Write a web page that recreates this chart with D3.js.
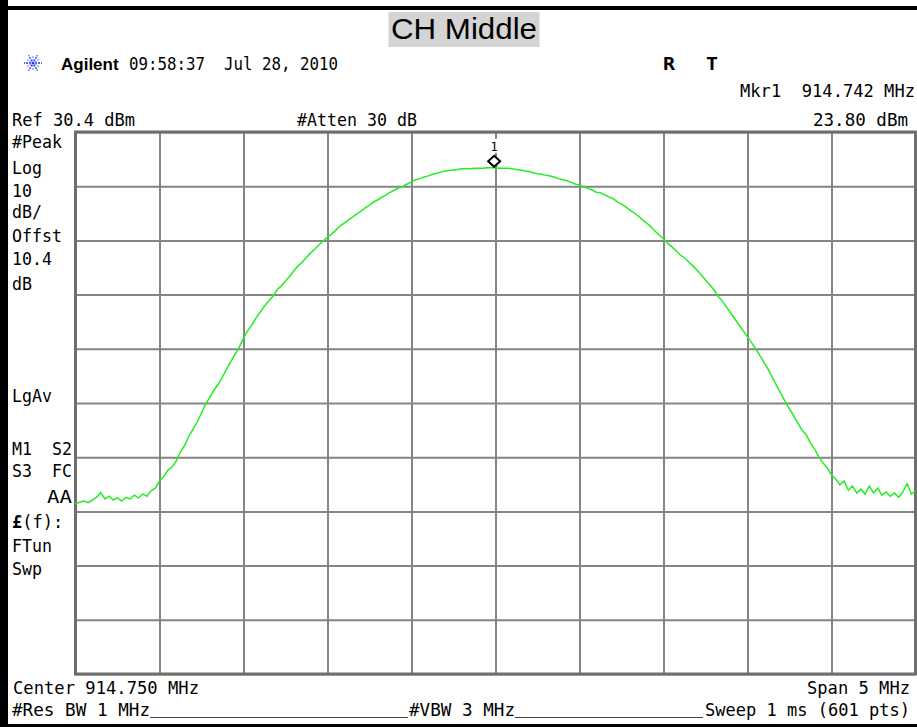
<!DOCTYPE html>
<html>
<head>
<meta charset="utf-8">
<script src="https://cdn.jsdelivr.net/npm/d3@7"></script>
<style>
  body { margin: 0; background: #fff; }
  text { font-family: "DejaVu Sans Mono", monospace; }
</style>
</head>
<body>
<div id="chart"></div>
<script>
// --- instrument settings ---
const centerFreq = 914.750;   // MHz
const spanFreq = 5;           // MHz
const refLevel = 30.4;        // dBm
const dbPerDiv = 10;
const numDivs = 10;
const markerFreq = 914.742;
const markerLevel = 23.80;

// trace levels in dBm, evenly spaced across the span (201 samples)
const traceLevels = [
  -38.2, -37.9, -37.7, -38.0, -37.5, -37.0, -36.1, -37.3, -36.8, -37.5, -37.1, -37.7, -37.0, -37.3, -36.6, -37.1, -36.4, -36.8, -35.8, -35.3,
  -34.0, -33.2, -32.0, -31.4, -30.3, -28.6, -27.4, -25.7, -24.4, -23.1, -21.4, -19.8, -18.5, -17.2, -16.1, -14.8, -13.3, -11.9, -10.6, -9.3,
  -7.6, -6.3, -5.2, -3.9, -2.8, -1.7, -0.8, 0.1, 1.3, 2.0, 2.9, 3.8, 4.8, 5.7, 6.4, 7.3, 8.1, 8.8, 9.6, 10.3,
  11.0, 11.6, 12.3, 13.1, 13.6, 14.2, 14.7, 15.3, 15.8, 16.4, 16.9, 17.5, 17.9, 18.4, 18.8, 19.3, 19.7, 20.1, 20.4, 20.8,
  21.2, 21.6, 21.8, 22.1, 22.3, 22.6, 22.8, 23.0, 23.2, 23.3, 23.4, 23.5, 23.6, 23.6, 23.6, 23.7, 23.7, 23.7, 23.8, 23.8,
  23.8, 23.7, 23.7, 23.7, 23.6, 23.5, 23.4, 23.2, 23.1, 22.9, 22.7, 22.6, 22.4, 22.3, 22.1, 21.8, 21.6, 21.4, 21.1, 20.8,
  20.6, 20.3, 20.0, 19.7, 19.3, 19.2, 18.8, 18.4, 18.1, 17.5, 17.1, 16.6, 16.0, 15.5, 14.9, 14.2, 13.6, 12.9, 12.1, 11.4,
  10.7, 9.9, 9.2, 8.5, 7.7, 7.2, 6.4, 5.7, 4.9, 4.0, 3.1, 2.2, 1.3, 0.1, -0.8, -1.9, -3.0, -4.1, -5.2, -6.3,
  -7.4, -8.5, -9.6, -10.9, -12.2, -13.5, -15.0, -16.5, -17.9, -19.4, -20.7, -22.0, -23.3, -24.6, -25.5, -27.0, -28.1, -29.6, -30.7, -31.6,
  -32.9, -33.6, -34.7, -34.0, -35.7, -34.9, -36.2, -35.5, -36.4, -34.9, -36.2, -35.3, -36.6, -36.0, -36.8, -36.2, -37.0, -36.0, -34.5, -36.4, -35.8
];

// annotation texts around the screen
const leftLabels = ['#Peak', 'Log', '10', 'dB/', 'Offst', '10.4', 'dB'];
const leftLabels2 = ['LgAv'];

const W = 917, H = 727;
const plot = { left: 75.5, right: 915.5, top: 132, bottom: 674 };

const svg = d3.select('#chart').append('svg')
  .attr('width', W)
  .attr('height', H)
  .style('background', '#fff');

// scales
const startFreq = centerFreq - spanFreq / 2;
const stepFreq = spanFreq / (traceLevels.length - 1);
const x = d3.scaleLinear().domain([startFreq, centerFreq + spanFreq / 2]).range([plot.left, plot.right]);
const y = d3.scaleLinear().domain([refLevel - dbPerDiv * numDivs, refLevel]).range([plot.bottom, plot.top]);

// outer black frame
svg.append('rect').attr('x', 0).attr('y', 0).attr('width', 8).attr('height', H).attr('fill', '#000');
svg.append('rect').attr('x', 0).attr('y', 6).attr('width', W).attr('height', 4).attr('fill', '#000');
svg.append('rect').attr('x', 0).attr('y', 724).attr('width', W).attr('height', 3).attr('fill', '#000');

// title
svg.append('rect').attr('x', 388.5).attr('y', 12).attr('width', 151).attr('height', 35).attr('fill', '#d4d4d4');
svg.append('text')
  .attr('x', 391).attr('y', 39)
  .style('font-family', '"Liberation Sans", Arial, sans-serif')
  .style('font-size', '30px')
  .attr('textLength', 146)
  .attr('lengthAdjust', 'spacingAndGlyphs')
  .attr('fill', '#000')
  .text('CH Middle');

// agilent starburst logo
const logo = svg.append('g').attr('transform', 'translate(33,63)');
d3.range(12).forEach(k => {
  const a = k * Math.PI / 6;
  const r = k % 2 === 0 ? 9 : 7;
  logo.append('line')
    .attr('x1', Math.cos(a) * 2).attr('y1', Math.sin(a) * 2)
    .attr('x2', Math.cos(a) * r).attr('y2', Math.sin(a) * r)
    .attr('stroke', k % 2 === 0 ? '#2233ee' : '#8890ff')
    .attr('stroke-width', 1.3)
    .attr('stroke-dasharray', '2,1');
});
logo.append('circle').attr('r', 1.5).attr('fill', '#2233ee');

svg.append('text')
  .attr('x', 61).attr('y', 70)
  .style('font-family', '"Liberation Sans", Arial, sans-serif')
  .style('font-weight', 'bold')
  .style('font-size', '17px')
  .text('Agilent');

// helper for instrument font text
function label(txt, x0, yb, opts = {}) {
  const t = svg.append('text')
    .attr('x', x0).attr('y', yb)
    .style('font-size', (opts.size || 17) + 'px')
    .style('font-weight', opts.bold ? 'bold' : 'normal')
    .attr('text-anchor', opts.anchor || 'start')
    .attr('fill', '#000')
    .attr('xml:space', 'preserve')
    .text(txt);
  if (opts.len) t.attr('textLength', opts.len).attr('lengthAdjust', 'spacingAndGlyphs');
  return t;
}

label('09:58:37  Jul 28, 2010', 129, 70, { len: 209 });
label('R', 663, 70, { bold: true, len: 12 });
label('T', 706, 70, { bold: true, len: 12 });
label('Mkr1  914.742 MHz', 740, 97, { len: 175 });
label('Ref 30.4 dBm', 12, 126, { len: 123 });
label('#Atten 30 dB', 297, 126, { len: 120 });
label('23.80 dBm', 813, 126, { len: 95 });

// left annotation column
const leftBase = [148, 174, 197, 218, 242, 265, 290];
leftLabels.forEach((t, i) => label(t, 12, leftBase[i], { len: t.length * 10 }));
leftLabels2.forEach(t => label(t, 12, 402, { len: 40 }));
label('M1  S2', 12, 455, { len: 60 });
label('S3  FC', 12, 477, { len: 60 });
label('AA', 47, 503, { len: 25 });
svg.append('text').attr('x', 12).attr('y', 528)
  .style('font-size', '17px')
  .html('<tspan font-weight="bold">£</tspan>(f):');
label('FTun', 12, 552, { len: 40 });
label('Swp', 12, 575, { len: 30 });

// bottom annotation
label('Center 914.750 MHz', 13, 694, { len: 186 });
label('Span 5 MHz', 807, 694, { len: 103 });
label('#Res BW 1 MHz', 12, 716, { len: 138 });
label('#VBW 3 MHz', 409, 716, { len: 106 });
label('Sweep 1 ms (601 pts)', 705, 716, { len: 205 });
svg.append('line').attr('x1', 150).attr('x2', 408).attr('y1', 717.5).attr('y2', 717.5).attr('stroke', '#444').attr('stroke-width', 1);
svg.append('line').attr('x1', 515).attr('x2', 703).attr('y1', 717.5).attr('y2', 717.5).attr('stroke', '#444').attr('stroke-width', 1);

// graticule via axes
const xTicks = d3.range(numDivs + 1).map(i => startFreq + i * spanFreq / numDivs);
const yTicks = d3.range(numDivs + 1).map(i => refLevel - i * dbPerDiv);

const gx = svg.append('g')
  .attr('transform', `translate(0,${plot.bottom})`)
  .call(d3.axisBottom(x).tickValues(xTicks).tickSize(-(plot.bottom - plot.top)).tickFormat(''));
const gy = svg.append('g')
  .attr('transform', `translate(${plot.left},0)`)
  .call(d3.axisLeft(y).tickValues(yTicks).tickSize(-(plot.right - plot.left)).tickFormat(''));
[gx, gy].forEach(g => {
  g.select('.domain').remove();
  g.selectAll('.tick line').attr('stroke', '#858585').attr('stroke-width', 2);
});
svg.append('rect')
  .attr('x', plot.left).attr('y', plot.top)
  .attr('width', plot.right - plot.left).attr('height', plot.bottom - plot.top)
  .attr('fill', 'none').attr('stroke', '#6e6e6e').attr('stroke-width', 3);

// trace
const traceData = traceLevels.map((v, i) => ({ f: startFreq + i * stepFreq, v }));
svg.append('path')
  .datum(traceData)
  .attr('fill', 'none')
  .attr('stroke', '#22ee22')
  .attr('stroke-width', 1.5)
  .attr('d', d3.line().x(d => x(d.f)).y(d => y(d.v)));

// marker 1
const mx = x(markerFreq), my = y(markerLevel);
svg.append('rect').attr('x', mx - 5).attr('y', my - 29).attr('width', 10).attr('height', 14).attr('fill', '#fff');
svg.append('path')
  .attr('d', `M${mx},${my - 12} L${mx + 6},${my - 6.5} L${mx},${my - 1} L${mx - 6},${my - 6.5} Z`)
  .attr('fill', '#fff')
  .attr('stroke', '#000')
  .attr('stroke-width', 2);
svg.append('text')
  .attr('x', mx).attr('y', my - 17)
  .attr('text-anchor', 'middle')
  .style('font-size', '12px')
  .text('1');
</script>
</body>
</html>
